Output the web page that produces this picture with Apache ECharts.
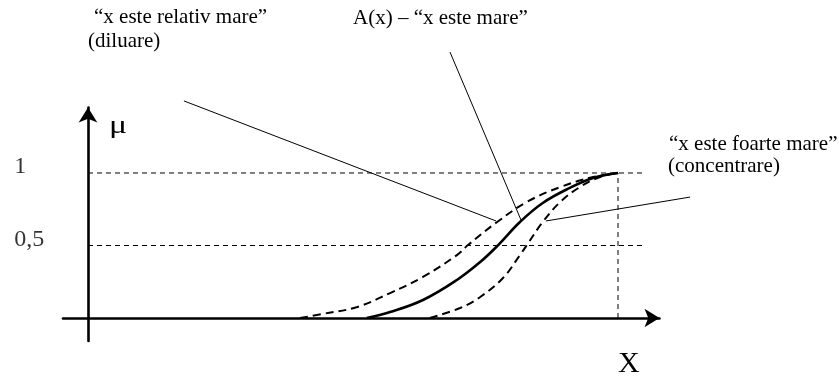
<!DOCTYPE html>
<html>
<head>
<meta charset="utf-8">
<script src="https://cdn.jsdelivr.net/npm/echarts@6/dist/echarts.min.js"></script>
<style>
  html, body { margin: 0; padding: 0; background: #fff; }
  #chart { width: 839px; height: 376px; }
</style>
</head>
<body>
<div id="chart"></div>
<script>
// Membership curves (x on the universe, mu in [0, 1])
const baseX = [5.26, 5.70, 6.32, 6.96, 7.40, 7.74, 8.15, 8.58, 9.09, 9.53, 10.0];
const baseY = [0, 0.041, 0.124, 0.262, 0.386, 0.503, 0.662, 0.793, 0.897, 0.966, 1.0];

const dilationX = [4.0, 4.43, 5.08, 5.70, 6.32, 6.96, 7.17, 7.72, 8.28, 8.91, 9.53, 10.0];
const dilationY = [0, 0.028, 0.076, 0.172, 0.283, 0.434, 0.503, 0.662, 0.80, 0.903, 0.972, 1.0];

const concX = [6.45, 7.02, 7.40, 7.83, 8.15, 8.28, 8.58, 8.91, 9.28, 9.66, 10.0];
const concY = [0, 0.069, 0.145, 0.276, 0.434, 0.503, 0.662, 0.80, 0.903, 0.972, 1.0];

// Reference levels on the mu axis and their labels
const levels = [1, 0.5];
const levelLabels = ['1', '0,5'];
const levelLabelX = -1.39;
const levelEndX = 10.47;
const supportEndX = 10;

// Leader lines from the captions to the curves
const leaderDilation = [[1.81, 1.497], [7.70, 0.669]];
const leaderBase = [[6.83, 1.834], [8.17, 0.676]];
const leaderConc = [[11.36, 0.834], [8.64, 0.669]];

// Captions
const captionDilation = ['\u201Cx este relativ mare\u201D', '(diluare)'];
const captionBase = 'A(x) \u2013 \u201Cx este mare\u201D';
const captionConc = ['\u201Cx este foarte mare\u201D', '(concentrare)'];
const muName = '\u03BC';
const xName = 'X';

const zip = (xs, ys) => xs.map((x, i) => [x, ys[i]]);
const serif = "'Liberation Serif', 'Times New Roman', serif";

const chart = echarts.init(document.getElementById('chart'), null, { renderer: 'canvas' });

const guideStyle = { color: '#000', width: 1, type: [5, 4] };

const series = [];

levels.forEach(v => {
  series.push({
    type: 'line', data: [[0, v], [levelEndX, v]], symbol: 'none', silent: true,
    lineStyle: guideStyle, z: 2
  });
});
series.push({
  type: 'line', data: [[supportEndX, 0], [supportEndX, 1]], symbol: 'none', silent: true,
  lineStyle: guideStyle, z: 2
});

series.push({
  type: 'line', data: zip(dilationX, dilationY), symbol: 'none', smooth: 0.4,
  lineStyle: { color: '#000', width: 2, type: [8, 5] }, z: 3
});
series.push({
  type: 'line', data: zip(concX, concY), symbol: 'none', smooth: 0.4,
  lineStyle: { color: '#000', width: 2, type: [8, 5] }, z: 3
});
series.push({
  type: 'line', data: zip(baseX, baseY), symbol: 'none', smooth: 0.4,
  lineStyle: { color: '#000', width: 2.6 }, z: 4
});

// Level labels placed at the mu values they name
series.push({
  type: 'scatter', symbolSize: 0, clip: false, silent: true,
  data: levels.map(v => [levelLabelX, v]),
  label: {
    show: true, position: 'right', distance: 0, offset: [0, -6],
    formatter: p => levelLabels[p.dataIndex],
    fontFamily: serif, fontSize: 24, color: '#000'
  }
});

const axisCommon = {
  type: 'value',
  splitLine: { show: false },
  axisTick: { show: false },
  axisLabel: { show: false },
  axisLine: {
    show: true, onZero: true,
    symbol: ['none', 'arrow'], symbolSize: [14, 15],
    lineStyle: { color: '#000', width: 2.6 }
  }
};

chart.setOption({
  animation: false,
  backgroundColor: '#fff',
  grid: { left: 63, right: 179.5, top: 107.5, bottom: 35, outerBoundsMode: 'none' },
  xAxis: Object.assign({}, axisCommon, { min: -0.4717, max: 10.783 }),
  yAxis: Object.assign({}, axisCommon, { min: -0.1586, max: 1.4517 }),
  series: series
});

// Leader lines and captions, positioned through the grid's own scales
const toPx = p => chart.convertToPixel({ gridIndex: 0 }, p);
const leaderShape = seg => {
  const a = toPx(seg[0]), b = toPx(seg[1]);
  return {
    type: 'line', silent: true, z: 10,
    shape: { x1: a[0], y1: a[1], x2: b[0], y2: b[1] },
    style: { stroke: '#000', lineWidth: 1 }
  };
};
const caption = (text, left, top, size) => ({
  type: 'text', left: left, top: top, silent: true,
  style: { text: text, font: size + 'px ' + serif, fill: '#000' }
});

chart.setOption({
  graphic: [
    leaderShape(leaderDilation),
    leaderShape(leaderBase),
    leaderShape(leaderConc),
    caption(captionDilation[0], 94, 6.5, 21),
    caption(captionDilation[1], 88, 30.5, 21),
    caption(captionBase, 353, 7.5, 21),
    caption(captionConc[0], 669, 134, 21),
    caption(captionConc[1], 668, 156, 21),
    { type: 'text', left: 109, top: 113, silent: true, scaleX: 1.3,
      style: { text: muName, font: '26px ' + serif, fill: '#000' } },
    caption(xName, 618, 349, 30)
  ]
});
</script>
</body>
</html>
